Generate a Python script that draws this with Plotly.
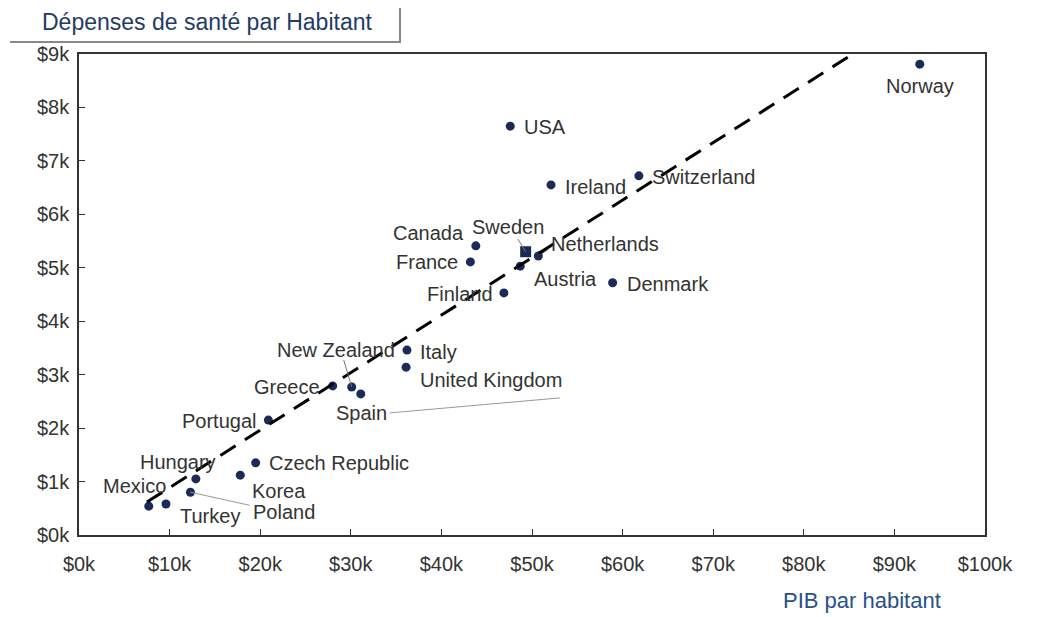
import plotly.graph_objects as go

# ---------------- data ----------------
countries = ["Norway", "USA", "Ireland", "Switzerland", "Canada", "Netherlands",
             "France", "Austria", "Finland", "Denmark", "Italy", "United Kingdom",
             "New Zealand", "Greece", "Spain", "Portugal", "Czech Republic", "Korea",
             "Hungary", "Poland", "Mexico", "Turkey"]
gdp = [92.8, 47.6, 52.1, 61.8, 43.8, 50.7, 43.2, 48.7, 46.9, 58.9, 36.2, 36.1,
       30.1, 28.0, 31.1, 20.9, 19.5, 17.8, 12.9, 12.3, 7.7, 9.6]          # $k
health = [8.81, 7.65, 6.55, 6.72, 5.41, 5.22, 5.11, 5.03, 4.53, 4.72, 3.46, 3.14,
          2.77, 2.79, 2.64, 2.15, 1.35, 1.12, 1.05, 0.80, 0.54, 0.58]      # $k

sweden_gdp = [49.3]
sweden_health = [5.30]

trend_x = [7.5, 90.0]
trend_slope = 0.1076
trend_intercept = -0.19

x_tickvals = [0, 10, 20, 30, 40, 50, 60, 70, 80, 90, 100]
x_ticktext = ["$0k", "$10k", "$20k", "$30k", "$40k", "$50k", "$60k", "$70k", "$80k", "$90k", "$100k"]
y_tickvals = [0, 1, 2, 3, 4, 5, 6, 7, 8, 9]
y_ticktext = ["$0k", "$1k", "$2k", "$3k", "$4k", "$5k", "$6k", "$7k", "$8k", "$9k"]

# ---------------- styling ----------------
OFF = 8                      # page body margin of the html
W, H = 1053, 617
ML, MT = 79 - OFF, 54 - OFF
PW, PH = 906, 481
MR, MB = W - ML - PW, H - MT - PH
XR, YR = [0, 100], [0, 9]

# label placement (anchor, dx px, dy px up)
label_pos = {
    "Norway": ("center", 0, -22), "USA": ("left", 12, -1), "Ireland": ("left", 12, -2),
    "Switzerland": ("left", 11, -1), "Canada": ("right", -10, 13),
    "Netherlands": ("left", 11, 12), "France": ("right", -10, 0),
    "Austria": ("left", 12, -13), "Finland": ("right", -9, -1),
    "Denmark": ("left", 12, -1), "Italy": ("left", 11, -2),
    "United Kingdom": ("left", 12, -13), "New Zealand": ("right", 45, 37),
    "Greece": ("right", -11, -1), "Spain": ("center", 1, -19),
    "Portugal": ("right", -9, -1), "Czech Republic": ("left", 11, 0),
    "Korea": ("left", 10, -16), "Hungary": ("right", 22, 17),
    "Poland": ("left", 61, -20), "Mexico": ("right", 19, 20), "Turkey": ("left", 12, -12),
}

def px2data(x, y, dx, dy):
    """offset a data point by pixels (dx right, dy up)"""
    return (x + dx * (XR[1] - XR[0]) / PW, y + dy * (YR[1] - YR[0]) / PH)

def ppx(px):
    return (px - OFF - ML) / PW

def ppy(py):
    return (MT + PH - (py - OFF)) / PH

DOT = "#1b2a57"
TXT = "#333333"
FONT = "Liberation Sans, Arial, sans-serif"
LFS = 20

fig = go.Figure()

fig.add_trace(go.Scatter(x=gdp, y=health, mode="markers",
                         marker=dict(color=DOT, size=9), hoverinfo="text",
                         text=countries, showlegend=False))
fig.add_trace(go.Scatter(x=sweden_gdp, y=sweden_health, mode="markers",
                         marker=dict(color=DOT, size=11, symbol="square"),
                         showlegend=False, hoverinfo="skip"))
fig.add_trace(go.Scatter(x=trend_x, y=[trend_slope * v + trend_intercept for v in trend_x],
                         mode="lines", line=dict(color="black", width=3, dash="18px,11px"),
                         showlegend=False, hoverinfo="skip"))

annotations = []
for c, x, y in zip(countries, gdp, health):
    anc, dx, dy = label_pos[c]
    annotations.append(dict(x=x, y=y, text=c, showarrow=False, xanchor=anc, yanchor="middle",
                            xshift=dx, yshift=dy, font=dict(size=LFS, color=TXT, family=FONT)))
annotations.append(dict(x=sweden_gdp[0], y=sweden_health[0], text="Sweden", showarrow=False,
                        xanchor="center", yanchor="middle", xshift=-18, yshift=25,
                        font=dict(size=LFS, color=TXT, family=FONT)))

# title tab and axis title
annotations.append(dict(xref="paper", yref="paper", x=ppx(40), y=ppy(22), text="Dépenses de santé par Habitant",
                        showarrow=False, xanchor="left", yanchor="middle",
                        font=dict(size=23, color="#1f3b66", family=FONT)))
annotations.append(dict(xref="paper", yref="paper", x=ppx(862), y=ppy(600), text="PIB par habitant",
                        showarrow=False, xanchor="center", yanchor="middle",
                        font=dict(size=22, color="#2a4f8c", family=FONT)))

shapes = [
    dict(type="line", xref="paper", yref="paper", x0=ppx(10), x1=ppx(401), y0=ppy(42), y1=ppy(42),
         line=dict(color="#888888", width=2)),
    dict(type="line", xref="paper", yref="paper", x0=ppx(400), x1=ppx(400), y0=ppy(4), y1=ppy(42),
         line=dict(color="#888888", width=2)),
]

# leader lines (country, start offset px, end offset px)
leaders = [
    ("Sweden", (0, 0), (-8, 13), "#777777"),
    ("Netherlands", (0, 0), (10, 7), "#333333"),
    ("New Zealand", (0, 0), (-8, 27), "#777777"),
    ("Spain", (29, -19), (199, -4), "#999999"),
    ("Poland", (0, 0), (59, -13), "#999999"),
]
lookup = dict(zip(countries, zip(gdp, health)))
lookup["Sweden"] = (sweden_gdp[0], sweden_health[0])
for c, (sx, sy), (ex, ey), col in leaders:
    bx, by = lookup[c]
    x0, y0 = px2data(bx, by, sx, sy)
    x1, y1 = px2data(bx, by, ex, ey)
    shapes.append(dict(type="line", xref="x", yref="y", x0=x0, y0=y0, x1=x1, y1=y1,
                       line=dict(color=col, width=1)))

axis_common = dict(showgrid=False, zeroline=False, ticks="inside", ticklen=6, tickwidth=1,
                   tickcolor="#333333", showline=True, linecolor="#333333", linewidth=1.5,
                   mirror=True, tickfont=dict(size=LFS, color=TXT, family=FONT))

fig.update_layout(
    width=W, height=H, margin=dict(l=ML, r=MR, t=MT, b=MB),
    paper_bgcolor="white", plot_bgcolor="white",
    xaxis=dict(range=XR, tickvals=x_tickvals, ticktext=x_ticktext, ticklabelstandoff=10, **axis_common),
    yaxis=dict(range=YR, tickvals=y_tickvals, ticktext=y_ticktext, ticklabelstandoff=4, **axis_common),
    annotations=annotations, shapes=shapes, font=dict(family=FONT),
)

fig.write_html("out.html")
